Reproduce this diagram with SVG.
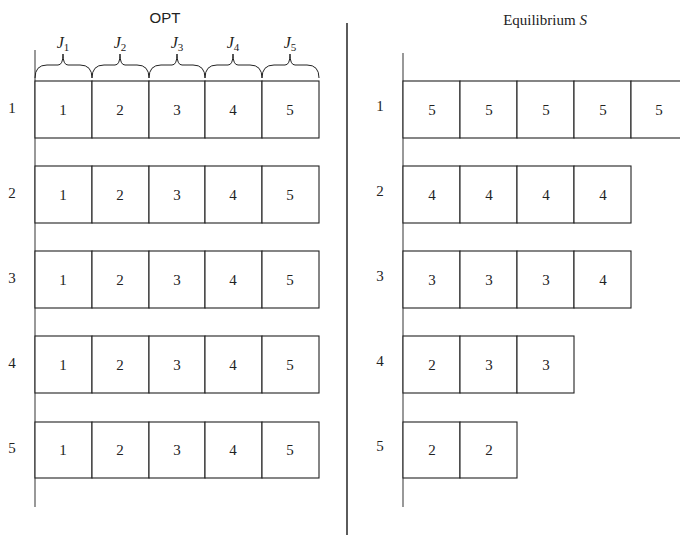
<svg xmlns="http://www.w3.org/2000/svg" width="680" height="535" viewBox="0 0 680 535">
<style>
.c{fill:#fff;stroke:#222;stroke-width:1.1}
.ax{stroke:#444;stroke-width:1.1;fill:none}
.t{font-family:"Liberation Serif",serif;font-size:15px;fill:#222;text-anchor:middle;dominant-baseline:central}
.j{font-family:"Liberation Serif",serif;font-style:italic;font-size:16px;fill:#222;text-anchor:middle}
.br{fill:none;stroke:#222;stroke-width:1}
</style>
<rect width="680" height="535" fill="#fff"/>
<g id="titles">
<text x="165" y="23" font-family="Liberation Sans,sans-serif" font-size="15" fill="#222" text-anchor="middle">OPT</text>
<text x="545" y="25" font-family="Liberation Serif,serif" font-size="15" fill="#222" text-anchor="middle">Equilibrium <tspan font-style="italic">S</tspan></text>
</g>
<g id="axes">
<line class="ax" x1="35" y1="50" x2="35" y2="507"/>
<line class="ax" x1="403" y1="53" x2="403" y2="507"/>
<line x1="347" y1="23" x2="347" y2="535" stroke="#333" stroke-width="1.6"/>
</g>
<g id="braces">
<path class="br" d="M35,78 Q35,65 47,65 L58,65 Q63,65 63,54 Q63,65 68,65 L80,65 Q92,65 92,78"/>
<path class="br" d="M92,78 Q92,65 104,65 L115,65 Q120,65 120,54 Q120,65 125,65 L137,65 Q149,65 149,78"/>
<path class="br" d="M149,78 Q149,65 161,65 L172,65 Q177,65 177,54 Q177,65 182,65 L193,65 Q205,65 205,78"/>
<path class="br" d="M205,78 Q205,65 217,65 L228,65 Q233,65 233,54 Q233,65 238,65 L250,65 Q262,65 262,78"/>
<path class="br" d="M262,78 Q262,65 274,65 L285,65 Q290,65 290,54 Q290,65 295,65 L307,65 Q319,65 319,78"/>
<text class="j" x="63" y="48">J<tspan font-style="normal" font-size="11" dy="3">1</tspan></text>
<text class="j" x="120" y="48">J<tspan font-style="normal" font-size="11" dy="3">2</tspan></text>
<text class="j" x="177" y="48">J<tspan font-style="normal" font-size="11" dy="3">3</tspan></text>
<text class="j" x="233" y="48">J<tspan font-style="normal" font-size="11" dy="3">4</tspan></text>
<text class="j" x="290" y="48">J<tspan font-style="normal" font-size="11" dy="3">5</tspan></text>
</g>
<g id="opt">
<g id="opt-row1">
<text class="t" x="12" y="108">1</text>
<rect class="c" x="35" y="81" width="57" height="57"/><text class="t" x="63" y="110">1</text>
<rect class="c" x="92" y="81" width="57" height="57"/><text class="t" x="120" y="110">2</text>
<rect class="c" x="149" y="81" width="56" height="57"/><text class="t" x="177" y="110">3</text>
<rect class="c" x="205" y="81" width="57" height="57"/><text class="t" x="233" y="110">4</text>
<rect class="c" x="262" y="81" width="57" height="57"/><text class="t" x="290" y="110">5</text>
</g>
<g id="opt-row2">
<text class="t" x="12" y="193">2</text>
<rect class="c" x="35" y="166" width="57" height="57"/><text class="t" x="63" y="195">1</text>
<rect class="c" x="92" y="166" width="57" height="57"/><text class="t" x="120" y="195">2</text>
<rect class="c" x="149" y="166" width="56" height="57"/><text class="t" x="177" y="195">3</text>
<rect class="c" x="205" y="166" width="57" height="57"/><text class="t" x="233" y="195">4</text>
<rect class="c" x="262" y="166" width="57" height="57"/><text class="t" x="290" y="195">5</text>
</g>
<g id="opt-row3">
<text class="t" x="12" y="278">3</text>
<rect class="c" x="35" y="251" width="57" height="57"/><text class="t" x="63" y="280">1</text>
<rect class="c" x="92" y="251" width="57" height="57"/><text class="t" x="120" y="280">2</text>
<rect class="c" x="149" y="251" width="56" height="57"/><text class="t" x="177" y="280">3</text>
<rect class="c" x="205" y="251" width="57" height="57"/><text class="t" x="233" y="280">4</text>
<rect class="c" x="262" y="251" width="57" height="57"/><text class="t" x="290" y="280">5</text>
</g>
<g id="opt-row4">
<text class="t" x="12" y="363">4</text>
<rect class="c" x="35" y="336" width="57" height="57"/><text class="t" x="63" y="365">1</text>
<rect class="c" x="92" y="336" width="57" height="57"/><text class="t" x="120" y="365">2</text>
<rect class="c" x="149" y="336" width="56" height="57"/><text class="t" x="177" y="365">3</text>
<rect class="c" x="205" y="336" width="57" height="57"/><text class="t" x="233" y="365">4</text>
<rect class="c" x="262" y="336" width="57" height="57"/><text class="t" x="290" y="365">5</text>
</g>
<g id="opt-row5">
<text class="t" x="12" y="448">5</text>
<rect class="c" x="35" y="422" width="57" height="56"/><text class="t" x="63" y="450">1</text>
<rect class="c" x="92" y="422" width="57" height="56"/><text class="t" x="120" y="450">2</text>
<rect class="c" x="149" y="422" width="56" height="56"/><text class="t" x="177" y="450">3</text>
<rect class="c" x="205" y="422" width="57" height="56"/><text class="t" x="233" y="450">4</text>
<rect class="c" x="262" y="422" width="57" height="56"/><text class="t" x="290" y="450">5</text>
</g>
</g>
<g id="eq">
<g id="eq-row1">
<text class="t" x="380" y="106">1</text>
<rect class="c" x="403" y="81" width="57" height="57"/><text class="t" x="432" y="110">5</text>
<rect class="c" x="460" y="81" width="57" height="57"/><text class="t" x="489" y="110">5</text>
<rect class="c" x="517" y="81" width="57" height="57"/><text class="t" x="546" y="110">5</text>
<rect class="c" x="574" y="81" width="57" height="57"/><text class="t" x="603" y="110">5</text>
<rect class="c" x="631" y="81" width="57" height="57"/><text class="t" x="659" y="110">5</text>
</g>
<g id="eq-row2">
<text class="t" x="380" y="191">2</text>
<rect class="c" x="403" y="166" width="57" height="57"/><text class="t" x="432" y="195">4</text>
<rect class="c" x="460" y="166" width="57" height="57"/><text class="t" x="489" y="195">4</text>
<rect class="c" x="517" y="166" width="57" height="57"/><text class="t" x="546" y="195">4</text>
<rect class="c" x="574" y="166" width="57" height="57"/><text class="t" x="603" y="195">4</text>
</g>
<g id="eq-row3">
<text class="t" x="380" y="276">3</text>
<rect class="c" x="403" y="251" width="57" height="57"/><text class="t" x="432" y="280">3</text>
<rect class="c" x="460" y="251" width="57" height="57"/><text class="t" x="489" y="280">3</text>
<rect class="c" x="517" y="251" width="57" height="57"/><text class="t" x="546" y="280">3</text>
<rect class="c" x="574" y="251" width="57" height="57"/><text class="t" x="603" y="280">4</text>
</g>
<g id="eq-row4">
<text class="t" x="380" y="361">4</text>
<rect class="c" x="403" y="336" width="57" height="57"/><text class="t" x="432" y="365">2</text>
<rect class="c" x="460" y="336" width="57" height="57"/><text class="t" x="489" y="365">3</text>
<rect class="c" x="517" y="336" width="57" height="57"/><text class="t" x="546" y="365">3</text>
</g>
<g id="eq-row5">
<text class="t" x="380" y="446">5</text>
<rect class="c" x="403" y="422" width="57" height="56"/><text class="t" x="432" y="450">2</text>
<rect class="c" x="460" y="422" width="57" height="56"/><text class="t" x="489" y="450">2</text>
</g>
</g>
</svg>
